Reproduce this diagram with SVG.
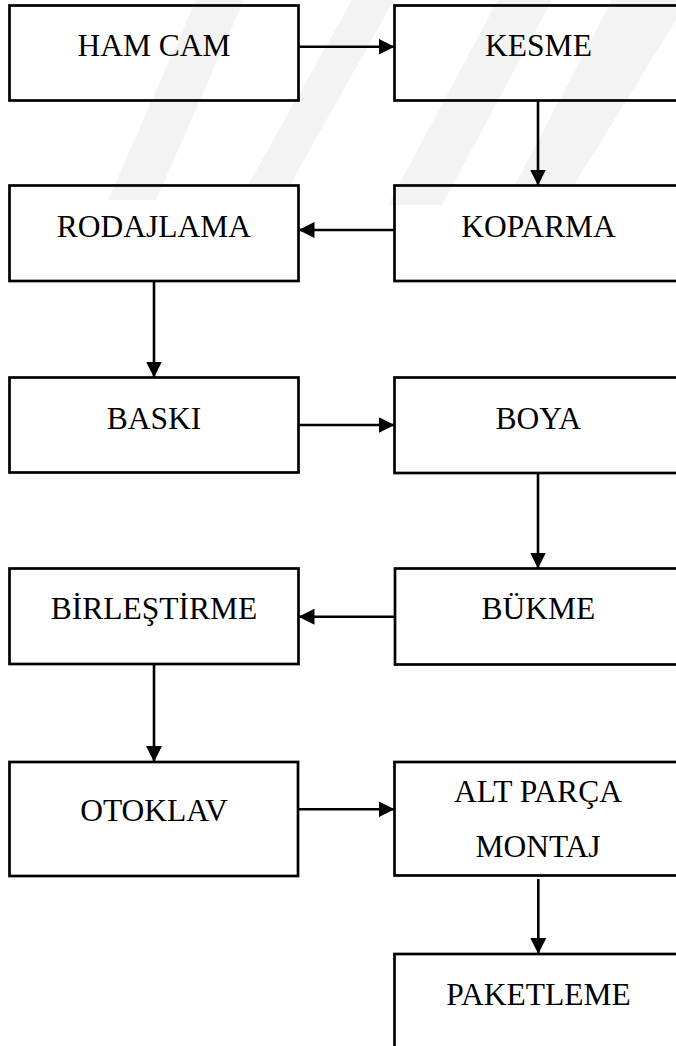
<svg xmlns="http://www.w3.org/2000/svg" width="676" height="1046" viewBox="0 0 676 1046">
<style>
.box{fill:none;stroke:#000;stroke-width:2.7}
.lbl{font-family:"Liberation Serif","Times New Roman",serif;font-size:31.5px;fill:#000;text-anchor:middle}
.con{stroke:#000;stroke-width:2.6;fill:none;marker-end:url(#ah)}
.wm{fill:#f3f3f3}
</style>
<defs>
<marker id="ah" markerUnits="userSpaceOnUse" markerWidth="16" markerHeight="16" viewBox="0 0 16 16" refX="16" refY="8" orient="auto">
<path d="M0,0 L16,8 L0,16 Z" fill="#000"/>
</marker>
</defs>
<rect width="676" height="1046" fill="#fff"/>
<g id="watermark">
<polygon class="wm" points="196,0 244,0 156,200 108,200"/>
<polygon class="wm" points="352,0 394,0 290,185 248,185"/>
<polygon class="wm" points="498,0 552,0 442,205 388,205"/>
<polygon class="wm" points="612,0 676,0 676,20 574,185 515,185"/>
</g>
<g id="connectors">
<line class="con" x1="298.5" y1="46.7" x2="394.5" y2="46.7"/>
<line class="con" x1="538" y1="101" x2="538" y2="185.5"/>
<line class="con" x1="394.5" y1="230" x2="298.5" y2="230"/>
<line class="con" x1="154" y1="281" x2="154" y2="377.5"/>
<line class="con" x1="298.5" y1="425" x2="394.5" y2="425"/>
<line class="con" x1="538" y1="473" x2="538" y2="568.5"/>
<line class="con" x1="396" y1="616.7" x2="298.5" y2="616.7"/>
<line class="con" x1="154" y1="664" x2="154" y2="762"/>
<line class="con" x1="298.5" y1="809.3" x2="394.5" y2="809.3"/>
<line class="con" x1="538.3" y1="879" x2="538.3" y2="954"/>
</g>
<g id="ham-cam"><rect class="box" x="9.5" y="5.5" width="289" height="95"/><text class="lbl" x="154" y="56">HAM CAM</text></g>
<g id="kesme"><rect class="box" x="394.5" y="5.5" width="300" height="95"/><text class="lbl" x="538.5" y="56">KESME</text></g>
<g id="rodajlama"><rect class="box" x="9.5" y="185.5" width="289" height="95.5"/><text class="lbl" x="154" y="237">RODAJLAMA</text></g>
<g id="koparma"><rect class="box" x="394.5" y="185.5" width="300" height="95.5"/><text class="lbl" x="538.5" y="237">KOPARMA</text></g>
<g id="baski"><rect class="box" x="9.5" y="377.5" width="289" height="95"/><text class="lbl" x="154" y="428.5">BASKI</text></g>
<g id="boya"><rect class="box" x="394.5" y="377.5" width="300" height="95.5"/><text class="lbl" x="538.5" y="428.5">BOYA</text></g>
<g id="birlestirme"><rect class="box" x="9.5" y="568.5" width="289" height="95.5"/><text class="lbl" x="154" y="619">BİRLEŞTİRME</text></g>
<g id="bukme"><rect class="box" x="395" y="568.5" width="300" height="96"/><text class="lbl" x="538.5" y="619">BÜKME</text></g>
<g id="otoklav"><rect class="box" x="9.5" y="762" width="288.5" height="114"/><text class="lbl" x="154" y="821">OTOKLAV</text></g>
<g id="alt-parca-montaj"><rect class="box" x="394.5" y="762" width="300" height="113.5"/><text class="lbl" x="538" y="802">ALT PARÇA</text><text class="lbl" x="538" y="856.5">MONTAJ</text></g>
<g id="paketleme"><rect class="box" x="394.5" y="954" width="300" height="120"/><text class="lbl" x="538.5" y="1005">PAKETLEME</text></g>
</svg>
